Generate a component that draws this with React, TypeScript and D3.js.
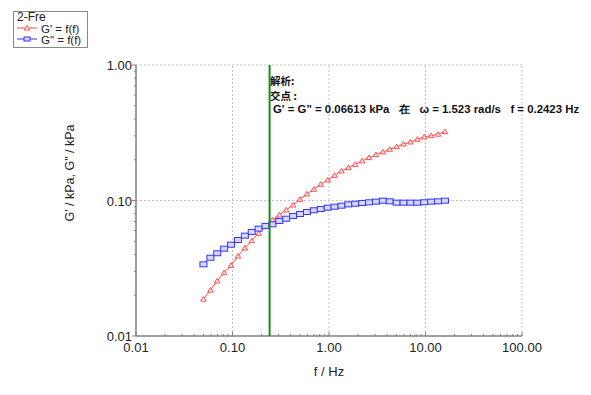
import React from "react";
import * as d3 from "d3";

const freq = [0.0500, 0.0590, 0.0695, 0.0819, 0.0966, 0.1139, 0.1343, 0.1583, 0.1866, 0.2200,
  0.2594, 0.3058, 0.3606, 0.4250, 0.5012, 0.5907, 0.6966, 0.8213, 0.9683, 1.1416,
  1.3459, 1.5867, 1.8707, 2.2054, 2.6002, 3.0654, 3.6141, 4.2607, 5.0234, 5.9224,
  6.9823, 8.2319, 9.7051, 11.442, 13.490, 15.904];

const gPrime = [0.0187, 0.0218, 0.0255, 0.0293, 0.0332, 0.0389, 0.0446, 0.0505, 0.0573, 0.0641,
  0.0718, 0.0782, 0.0851, 0.0927, 0.1020, 0.1117, 0.1210, 0.1316, 0.1417, 0.1535,
  0.1652, 0.1746, 0.1849, 0.1958, 0.2072, 0.2180, 0.2281, 0.2387, 0.2496, 0.2612,
  0.2704, 0.2829, 0.2943, 0.3008, 0.3083, 0.3222];

const gDouble = [0.0338, 0.0378, 0.0408, 0.0441, 0.0472, 0.0511, 0.0550, 0.0586, 0.0620, 0.0649,
  0.0667, 0.0706, 0.0734, 0.0769, 0.0795, 0.0822, 0.0847, 0.0865, 0.0885, 0.0900,
  0.0916, 0.0937, 0.0947, 0.0959, 0.0970, 0.0981, 0.0997, 0.0986, 0.0964, 0.0964,
  0.0964, 0.0964, 0.0970, 0.0981, 0.0986, 0.0997];

const xTicks = [0.01, 0.1, 1, 10, 100];
const xTickLabels = ["0.01", "0.10", "1.00", "10.00", "100.00"];
const yTicks = [0.01, 0.1, 1];
const yTickLabels = ["0.01", "0.10", "1.00"];
const crossFreq = 0.2423;

const legendTitle = "2-Fre";
const legendLabels = ["G' = f(f)", "G\" = f(f)"];
const annot = ["解析:", "交点 :", "G' = G\" = 0.06613 kPa   在   ω = 1.523 rad/s   f = 0.2423 Hz"];

const RED = "#ff4d4d";
const BLUE = "#3333ff";
const FONT = "'Liberation Sans', Arial, sans-serif";

function tri(x: number, y: number) {
  return `M${x - 2.8},${y + 2} L${x + 2.8},${y + 2} L${x},${y - 2.6} Z`;
}

export default function App() {
  const W = 591, H = 395;
  const x = d3.scaleLog().domain([0.01, 100]).range([136, 522]);
  const y = d3.scaleLog().domain([0.01, 1]).range([336, 65]);
  const line = d3.line<[number, number]>().x(d => x(d[0])).y(d => y(d[1]));
  const redPts: [number, number][] = freq.map((f, i) => [f, gPrime[i]]);
  const bluePts: [number, number][] = freq.map((f, i) => [f, gDouble[i]]);

  const minorX: number[] = [];
  for (let e = -2; e < 2; e++) for (let k = 2; k <= 9; k++) minorX.push(k * Math.pow(10, e));
  const minorY: number[] = [];
  for (let e = -2; e < 0; e++) for (let k = 2; k <= 9; k++) minorY.push(k * Math.pow(10, e));

  const [x0, x1] = x.range();
  const [y0, y1] = y.range();

  return (
    <svg width={W} height={H} style={{ position: "absolute", left: 0, top: 0, background: "#fff" }} fontFamily={FONT}>
      <rect width={W} height={H} fill="#fff" />
      {/* grid */}
      {xTicks.slice(1).map((t, i) => (
        <line key={"gx" + i} x1={x(t)} x2={x(t)} y1={y0} y2={y1} stroke="#c0c0c0" strokeDasharray="2,2" />
      ))}
      {yTicks.slice(1).map((t, i) => (
        <line key={"gy" + i} x1={x0} x2={x1} y1={y(t)} y2={y(t)} stroke="#c0c0c0" strokeDasharray="2,2" />
      ))}
      {/* axes */}
      <line x1={x0} x2={x0} y1={y0} y2={y1} stroke="#808080" strokeWidth={1.5} />
      <line x1={x0} x2={x1} y1={y0} y2={y0} stroke="#808080" strokeWidth={1.5} />
      {minorX.map((t, i) => (
        <line key={"mx" + i} x1={x(t)} x2={x(t)} y1={y0} y2={y0 - 2} stroke="#808080" />
      ))}
      {xTicks.map((t, i) => (
        <line key={"Mx" + i} x1={x(t)} x2={x(t)} y1={y0} y2={y0 - 4} stroke="#808080" />
      ))}
      {minorY.map((t, i) => (
        <line key={"my" + i} x1={x0} x2={x0 - 2} y1={y(t)} y2={y(t)} stroke="#808080" />
      ))}
      {yTicks.map((t, i) => (
        <line key={"My" + i} x1={x0} x2={x0 - 4} y1={y(t)} y2={y(t)} stroke="#808080" />
      ))}
      {/* tick labels */}
      {xTicks.map((t, i) => (
        <text key={"xl" + i} x={x(t)} y={352} textAnchor="middle" fontSize={13} fill="#222">{xTickLabels[i]}</text>
      ))}
      {yTicks.map((t, i) => (
        <text key={"yl" + i} x={132} y={y(t) + 5} textAnchor="end" fontSize={13} fill="#222">{yTickLabels[i]}</text>
      ))}
      <text x={329} y={376} textAnchor="middle" fontSize={13} fill="#222">f / Hz</text>
      <text transform="translate(74,173) rotate(-90)" textAnchor="middle" fontSize={12.5} fill="#222">G' / kPa, G" / kPa</text>

      {/* series */}
      <path d={line(redPts) || ""} fill="none" stroke={RED} strokeWidth={1} />
      {redPts.map((p, i) => (
        <path key={"r" + i} d={tri(x(p[0]), y(p[1]))} fill="#fff" fillOpacity={0.6} stroke={RED} strokeWidth={1} />
      ))}
      <path d={line(bluePts) || ""} fill="none" stroke={BLUE} strokeWidth={1} />
      {bluePts.map((p, i) => (
        <rect key={"b" + i} x={x(p[0]) - 3.5} y={y(p[1]) - 2.5} width={7} height={5} fill="#d8d8ff" stroke={BLUE} strokeWidth={1} />
      ))}

      {/* crossover */}
      <line x1={x(crossFreq)} x2={x(crossFreq)} y1={y0} y2={y1} stroke="#1a8a1a" strokeWidth={2} />
      <text x={270} y={85} fontSize={10.5} fontWeight="bold" fill="#111" fontFamily="'Noto Sans CJK SC', sans-serif">{annot[0]}</text>
      <text x={270} y={100} fontSize={10.5} fontWeight="bold" fill="#111" fontFamily="'Noto Sans CJK SC', sans-serif">{annot[1]}</text>
      <text x={273} y={113} fontSize={11.4} fontWeight="bold" fill="#111" style={{ whiteSpace: "pre" }}>{annot[2]}</text>

      {/* legend */}
      <rect x={13.5} y={11.5} width={74} height={36} fill="#fff" stroke="#888" />
      <text x={17} y={21} fontSize={12} fill="#222">{legendTitle}</text>
      <line x1={17} x2={37} y1={28} y2={28} stroke={RED} />
      <path d={tri(27, 28)} fill="#fff" stroke={RED} />
      <text x={41} y={32.5} fontSize={11.5} fill="#222">{legendLabels[0]}</text>
      <line x1={17} x2={37} y1={39} y2={39} stroke={BLUE} />
      <rect x={24} y={37} width={6} height={4} fill="#d8d8ff" stroke={BLUE} />
      <text x={41} y={44} fontSize={11.5} fill="#222">{legendLabels[1]}</text>
    </svg>
  );
}
